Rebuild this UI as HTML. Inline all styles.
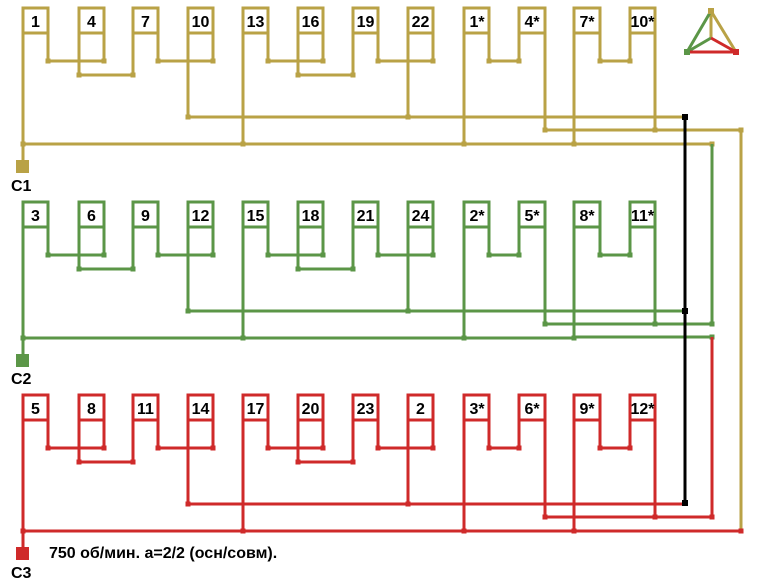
<!DOCTYPE html>
<html><head><meta charset="utf-8"><style>
html,body{margin:0;padding:0;background:#fff;}
svg{display:block;}
text{font-family:"Liberation Sans",Arial,sans-serif;font-weight:bold;font-size:16px;fill:#000;}
</style></head><body>
<svg width="759" height="580" viewBox="0 0 759 580" xmlns="http://www.w3.org/2000/svg">
<defs>
<g id="row" fill="none" stroke="currentColor" stroke-width="3">
 <path d="M23 160V8H48V61M79 75V8H104V61M133 75V8H158V61M188 117V8H213V61M243 144V8H268V61M298 75V8H323V61M353 75V8H378V61M408 117V8H433V61M464 144V8H489V61M519 61V8H545V130M574 144V8H600V61M630 61V8H655V130"/>
 <path d="M23 33H48M79 33H104M133 33H158M188 33H213M243 33H268M298 33H323M353 33H378M408 33H433M464 33H489M519 33H545M574 33H600M630 33H655"/>
 <path d="M48 61H104M158 61H213M268 61H323M378 61H433M489 61H519M600 61H630M79 75H133M298 75H353M188 117H685M545 130H655M23 144H574"/>
 <g fill="currentColor" stroke="none">
  <rect x="16" y="160" width="13" height="13"/>
  <rect x="45.5" y="58.5" width="5" height="5"/><rect x="101.5" y="58.5" width="5" height="5"/>
  <rect x="155.5" y="58.5" width="5" height="5"/><rect x="210.5" y="58.5" width="5" height="5"/>
  <rect x="265.5" y="58.5" width="5" height="5"/><rect x="320.5" y="58.5" width="5" height="5"/>
  <rect x="375.5" y="58.5" width="5" height="5"/><rect x="430.5" y="58.5" width="5" height="5"/>
  <rect x="486.5" y="58.5" width="5" height="5"/><rect x="516.5" y="58.5" width="5" height="5"/>
  <rect x="597.5" y="58.5" width="5" height="5"/><rect x="627.5" y="58.5" width="5" height="5"/>
  <rect x="76.5" y="72.5" width="5" height="5"/><rect x="130.5" y="72.5" width="5" height="5"/>
  <rect x="295.5" y="72.5" width="5" height="5"/><rect x="350.5" y="72.5" width="5" height="5"/>
  <rect x="185.5" y="114.5" width="5" height="5"/><rect x="405.5" y="114.5" width="5" height="5"/>
  <rect x="542.5" y="127.5" width="5" height="5"/><rect x="652.5" y="127.5" width="5" height="5"/>
  <rect x="20.5" y="141.5" width="5" height="5"/><rect x="240.5" y="141.5" width="5" height="5"/>
  <rect x="461.5" y="141.5" width="5" height="5"/><rect x="571.5" y="141.5" width="5" height="5"/>
 </g>
</g>
</defs>

<!-- Row 1 gold -->
<g color="#b9a246">
 <use href="#row"/>
 <path d="M655 130H741V531M574 144H712" fill="none" stroke="#b9a246" stroke-width="3"/>
 <rect x="738.5" y="127.5" width="5" height="5" fill="#b9a246"/>
 <rect x="709.5" y="141.5" width="5" height="5" fill="#b9a246"/>
</g>
<!-- Row 2 green -->
<g color="#5b9647" transform="translate(0,194)">
 <use href="#row"/>
 <path d="M655 130H712M574 143H712" fill="none" stroke="#5b9647" stroke-width="3"/>
</g>
<path d="M712 144V324" fill="none" stroke="#5b9647" stroke-width="3"/>
<rect x="709.5" y="321.5" width="5" height="5" fill="#5b9647"/>
<rect x="709.5" y="334.5" width="5" height="5" fill="#5b9647"/>
<!-- Row 3 red -->
<g color="#cf2a2a" transform="translate(0,387)">
 <use href="#row"/>
 <path d="M655 130H712M574 144H741" fill="none" stroke="#cf2a2a" stroke-width="3"/>
</g>
<path d="M712 337V517" fill="none" stroke="#cf2a2a" stroke-width="3"/>
<rect x="709.5" y="514.5" width="5" height="5" fill="#cf2a2a"/>
<rect x="738.5" y="528.5" width="5" height="5" fill="#cf2a2a"/>

<!-- black link -->
<path d="M685 117V503" stroke="#000" stroke-width="3"/>
<rect x="682" y="114" width="6" height="6" fill="#000"/>
<rect x="682" y="308" width="6" height="6" fill="#000"/>
<rect x="682" y="500" width="6" height="6" fill="#000"/>

<!-- labels row 1 -->
<g text-anchor="middle">
<text x="35.5" y="27">1</text><text x="91.5" y="27">4</text><text x="145.5" y="27">7</text><text x="200.5" y="27">10</text>
<text x="255.5" y="27">13</text><text x="310.5" y="27">16</text><text x="365.5" y="27">19</text><text x="420.5" y="27">22</text>
<text x="477" y="27">1*</text><text x="532" y="27">4*</text><text x="587" y="27">7*</text><text x="642.5" y="27">10*</text>
</g>
<g text-anchor="middle" transform="translate(0,194)">
<text x="35.5" y="27">3</text><text x="91.5" y="27">6</text><text x="145.5" y="27">9</text><text x="200.5" y="27">12</text>
<text x="255.5" y="27">15</text><text x="310.5" y="27">18</text><text x="365.5" y="27">21</text><text x="420.5" y="27">24</text>
<text x="477" y="27">2*</text><text x="532" y="27">5*</text><text x="587" y="27">8*</text><text x="642.5" y="27">11*</text>
</g>
<g text-anchor="middle" transform="translate(0,387)">
<text x="35.5" y="27">5</text><text x="91.5" y="27">8</text><text x="145.5" y="27">11</text><text x="200.5" y="27">14</text>
<text x="255.5" y="27">17</text><text x="310.5" y="27">20</text><text x="365.5" y="27">23</text><text x="420.5" y="27">2</text>
<text x="477" y="27">3*</text><text x="532" y="27">6*</text><text x="587" y="27">9*</text><text x="642.5" y="27">12*</text>
</g>
<text x="11" y="191">C1</text>
<text x="11" y="384">C2</text>
<text x="11" y="578">C3</text>
<text x="49" y="558">750 об/мин. а=2/2 (осн/совм).</text>

<!-- triangle icon -->
<g stroke-width="3" fill="none">
 <path d="M711 11L736 52M711 11V38" stroke="#b9a246"/>
 <path d="M711 11L687 52M711 38L687 52" stroke="#5b9647"/>
 <path d="M711 38L736 52M687 52H736" stroke="#cf2a2a"/>
</g>
<rect x="708" y="8" width="6" height="6" fill="#b9a246"/>
<rect x="684" y="49" width="6" height="6" fill="#5b9647"/>
<rect x="733" y="49" width="6" height="6" fill="#cf2a2a"/>
</svg>
</body></html>
